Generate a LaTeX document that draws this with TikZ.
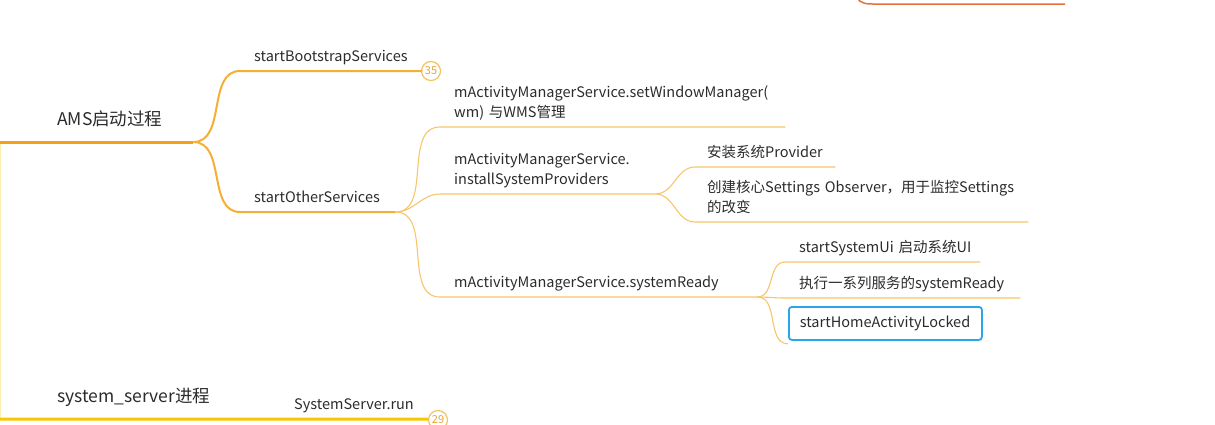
\documentclass[tikz,border=0pt]{standalone}
\usepackage{fontspec}
\setmainfont{Noto Sans CJK SC}
\usetikzlibrary{positioning,calc}

\definecolor{amsorange}{HTML}{F5A01A}
\definecolor{limborange}{HTML}{F6AE35}
\definecolor{twigorange}{HTML}{F7C56C}
\definecolor{srvyellow}{HTML}{F8C700}
\definecolor{badgeline}{HTML}{F2C45E}
\definecolor{badgetext}{HTML}{E6A63C}
\definecolor{pickblue}{HTML}{2AA5E6}
\definecolor{upperred}{HTML}{E8703A}
\definecolor{textgray}{HTML}{2B2B2B}

\tikzset{
  topic/.style={anchor=south west, inner xsep=0pt, inner ysep=3.5pt, align=left,
    text=textgray, font=\fontsize{14.5}{20}\selectfont,
    execute at begin node={\leftskip=14pt}, execute at end node={\strut}},
  sub topic/.style={topic, execute at begin node={\leftskip=12pt}},
  main topic/.style={topic, inner ysep=10pt, font=\fontsize{17.5}{22}\selectfont,
    execute at begin node={\leftskip=57pt}},
  picked/.style={topic, anchor=north west, draw=pickblue, line width=1.8pt,
    rounded corners=3pt, minimum height=33pt, inner ysep=0pt,
    execute at begin node={\leftskip=11pt}},
  badge/.style={circle, draw=badgeline, fill=white, line width=1.2pt, inner sep=0pt,
    minimum size=19pt, text=badgetext, font=\fontsize{11}{12}\selectfont},
  stem/.style={draw=amsorange, line width=3pt},
  limb/.style={draw=limborange, line width=2pt},
  twig/.style={draw=twigorange, line width=1.1pt},
  srvline/.style={draw=srvyellow, line width=3pt},
  trunk/.style={draw=srvyellow!30, line width=0.6pt},
  upper/.style={draw=upperred, line width=1.5pt},
}

\begin{document}
\begin{tikzpicture}[x=1pt,y=-1pt]
  \useasboundingbox (0,0) rectangle (1215,424);

  % top level
  \node[main topic, text width=193pt] (ams) at (0,142) {AMS启动过程};
  \node[main topic, text width=280pt] (srv) at (0,419) {system\_server进程};

  % AMS branches
  \node[topic, text width=182pt] (boot) at (240,71) {startBootstrapServices};
  \node[badge] (b35) at (431,71) {35};
  \node[topic, text width=155pt] (other) at (240,212) {startOtherServices};

  \node[topic, text width=345pt] (setwm) at (440,127) {mActivityManagerService.setWindowManager(\\wm) 与WMS管理};
  \node[topic, text width=215pt] (install) at (440,194) {mActivityManagerService.\\installSystemProviders};
  \node[topic, text width=317pt] (ready) at (440,297) {mActivityManagerService.systemReady};

  \node[sub topic, text width=140pt] (prov) at (695,167) {安装系统Provider};
  \node[sub topic, text width=333pt] (obs) at (695,222) {创建核心Settings Observer，用于监控Settings\\的改变};

  \node[topic, text width=195pt] (sysui) at (785,262) {startSystemUi 启动系统UI};
  \node[topic, text width=235pt] (exec) at (785,298) {执行一系列服务的systemReady};
  \node[picked, text width=193pt] (home) at (788,306) {startHomeActivityLocked};

  % system_server branch
  \node[topic, text width=147pt] (run) at (280,419) {SystemServer.run};
  \node[badge] (b29) at (438,420) {29};

  % cut-off branch at the top
  \coordinate (up) at (857,-3);
  \coordinate (upbend) at (876,4);
  \coordinate (upend) at (1065,4);
  \draw[upper] (up) to[out=-70,in=180] (upbend) -- (upend);

  % connectors
  \draw[trunk] ([xshift=0.5pt]ams.south west) -- ([xshift=0.5pt]srv.south west);
  \draw[stem] (ams.south west) -- (ams.south east);
  \draw[limb] (ams.south east) to[out=0,in=180] (boot.south west) -- (boot.south east) -- (b35);
  \draw[limb] (ams.south east) to[out=0,in=180] (other.south west) -- (other.south east);

  \draw[twig] (other.south east) to[out=0,in=180] (setwm.south west) -- (setwm.south east);
  \draw[twig] (other.south east) to[out=0,in=180] (install.south west) -- (install.south east);
  \draw[twig] (other.south east) to[out=0,in=180] (ready.south west) -- (ready.south east);

  \draw[twig] (install.south east) to[out=0,in=180] (prov.south west) -- (prov.south east);
  \draw[twig] (install.south east) to[out=0,in=180] (obs.south west) -- (obs.south east);

  \draw[twig] (ready.south east) to[out=0,in=180] (sysui.south west) -- (sysui.south east);
  \draw[twig] (ready.south east) to[out=0,in=180] (exec.south west) -- (exec.south east);
  \draw[twig] (ready.south east) to[out=0,in=180] ([yshift=-3pt]home.south west);

  \draw[srvline] (srv.south west) -- (srv.south east) -- (run.south east) -- (b29);
\end{tikzpicture}
\end{document}
